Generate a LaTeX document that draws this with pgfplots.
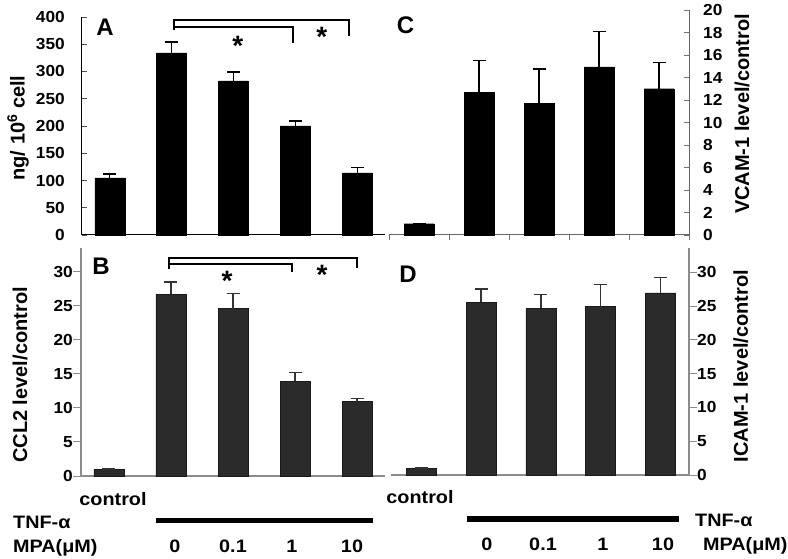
\documentclass[border=0pt]{standalone}
\usepackage{fontspec}
\setmainfont{Liberation Sans}
\newfontfamily\tfont{Liberation Sans}[FakeStretch=1.08]
\newfontfamily\wfont{Liberation Sans}[FakeStretch=1.1]
\usepackage{pgfplots}
\pgfplotsset{compat=1.18}
\definecolor{barB}{HTML}{2B2B2B}
\definecolor{axgray}{HTML}{8C8C8C}
\pgfplotsset{
  panel/.style={
    scale only axis, anchor=south west, clip=false, ymin=0,
    ybar, bar width=30pt,
    /pgf/number format/assume math mode=true,
    ticklabel style={font=\fontsize{16}{16}\tfont\bfseries, text=black},
    major tick length=5pt,
    every axis y label/.style={rotate=90, anchor=center, font=\fontsize{20}{20}\selectfont\bfseries},
  },
  blackbar/.style={fill=black, draw=black,
    error bars/.cd, y dir=plus, y explicit,
    error bar style={line width=1.3pt, black},
    error mark options={rotate=90, mark size=6.5pt, line width=1.3pt, black}},
  graybar/.style={fill=barB, draw=black!90, line width=0.8pt,
    error bars/.cd, y dir=plus, y explicit,
    error bar style={line width=1.5pt, black!80},
    error mark options={rotate=90, mark size=6.5pt, line width=1.5pt, black!80}},
}
\begin{document}
\begin{tikzpicture}
\path[use as bounding box] (0pt,0pt) rectangle (788pt,558pt);

% ---------- Panel A ----------
\begin{axis}[panel,
  at={(82pt,323pt)}, width=303pt, height=218pt,
  xmin=-0.45, xmax=4.45, ymax=400,
  axis x line*=bottom, axis y line*=left,
  xtick=\empty, ytick={0,50,...,400},
  tick align=inside,
  axis line style={black, line width=1pt},
  ytick style={black!70, line width=0.8pt},
  yticklabel style={anchor=east, inner sep=0pt, xshift=-17pt},
  ylabel={ng/ 10\textsuperscript{6} cell},
  ylabel style={at={(axis description cs:-0.211,0.491)}},
]
\addplot[blackbar] table[x=x, y=y, y error=e] {
x y e
0 105 7
1 334 20
2 283 16
3 200 9
4 114 10
};
\draw[line width=2pt] (axis cs:1.04,376) -- (axis cs:1.04,394.5) -- (axis cs:3.87,394.5) -- (axis cs:3.87,365.7);
\draw[line width=2pt] (axis cs:1.04,382.2) -- (axis cs:2.96,382.2) -- (axis cs:2.96,352.8);
\node[font=\fontsize{28}{28}\selectfont\bfseries, yshift=-6pt] at (axis cs:2.07,357.8) {*};
\node[font=\fontsize{28}{28}\selectfont\bfseries, yshift=-6pt] at (axis cs:3.43,374.3) {*};
\node[font=\fontsize{24}{24}\selectfont\bfseries] at (axis description cs:0.076,0.954) {A};
\end{axis}

% ---------- Panel B ----------
\begin{axis}[panel,
  at={(81pt,82pt)}, width=304pt, height=228pt,
  xmin=-0.45, xmax=4.45, ymax=33.5,
  axis x line*=bottom, axis y line*=left,
  xtick=\empty, ytick={0,5,...,30},
  tick align=outside,
  axis line style={axgray, line width=1.2pt},
  ytick style={axgray, line width=1pt},
  major tick length=8pt,
  yticklabel style={anchor=east, inner sep=0pt},
  ylabel={CCL2 level/control},
  ylabel style={at={(axis description cs:-0.2007,0.443)}},
]
\addplot[graybar] table[x=x, y=y, y error=e] {
x y e
0 1.0 0
1 26.7 1.8
2 24.6 2.2
3 13.9 1.3
4 10.9 0.5
};
\draw[line width=2pt] (axis cs:0.968,30.4) -- (axis cs:0.968,31.97) -- (axis cs:4.0,31.97) -- (axis cs:4.0,30.59);
\draw[line width=2pt] (axis cs:0.968,31.09) -- (axis cs:2.951,31.09) -- (axis cs:2.951,29.91);
\node[font=\fontsize{28}{28}\selectfont\bfseries, yshift=-6pt] at (axis cs:1.903,29.5) {*};
\node[font=\fontsize{28}{28}\selectfont\bfseries, yshift=-6pt] at (axis cs:3.435,30.5) {*};
\node[font=\fontsize{24}{24}\selectfont\bfseries] at (axis description cs:0.066,0.921) {B};
\end{axis}

% ---------- Panel C ----------
\begin{axis}[panel,
  at={(389pt,323pt)}, width=300pt, height=225pt,
  xmin=-0.5, xmax=4.5, ymax=20,
  axis x line*=bottom, axis y line*=right,
  xtick={-0.5,0.5,...,4.5}, xticklabels={},
  ytick={0,2,...,20},
  tick align=inside,
  axis line style={black!60, line width=1pt},
  ytick style={black!55, line width=0.8pt},
  xtick style={black!55, line width=0.8pt, yshift=-5pt},
  yticklabel style={anchor=west, inner sep=0pt, xshift=14pt},
  ylabel={VCAM-1 level/control},
  ylabel style={at={(axis description cs:1.177,0.538)}},
]
\addplot[blackbar] table[x=x, y=y, y error=e] {
x y e
0 1.0 0
1 12.65 2.85
2 11.7 3.05
3 14.95 3.15
4 13.0 2.35
};
\node[font=\fontsize{24}{24}\selectfont\bfseries] at (axis description cs:0.055,0.933) {C};
\end{axis}

% ---------- Panel D ----------
\begin{axis}[panel,
  at={(391pt,83pt)}, width=298pt, height=227pt,
  xmin=-0.51, xmax=4.48, ymax=33.6,
  axis x line*=bottom, axis y line*=right,
  xtick=\empty, ytick={0,5,...,30},
  tick align=outside,
  axis line style={axgray, line width=1.2pt},
  ytick style={axgray, line width=1pt},
  major tick length=8pt,
  yticklabel style={anchor=west, inner sep=0pt},
  ylabel={ICAM-1 level/control},
  ylabel style={at={(axis description cs:1.174,0.48)}},
]
\addplot[graybar] table[x=x, y=y, y error=e] {
x y e
0 1.0 0
1 25.6 1.9
2 24.65 2.05
3 24.9 3.3
4 26.95 2.3
};
\node[font=\fontsize{24}{24}\selectfont\bfseries] at (axis description cs:0.057,0.885) {D};
\end{axis}

% ---------- treatment labels ----------
\begin{scope}[every node/.style={font=\fontsize{18}{18}\wfont\bfseries, inner sep=0pt}]
\node[anchor=base] at (113pt,53pt) {control};
\node[anchor=base west] at (13pt,30pt) {TNF-α};
\node[anchor=base west] at (13pt,6pt) {MPA(μM)};
\node[anchor=base] at (175pt,6pt) {0};
\node[anchor=base] at (233pt,6pt) {0.1};
\node[anchor=base] at (292pt,6pt) {1};
\node[anchor=base] at (352pt,6pt) {10};
\draw[line width=5.5pt] (156pt,37.5pt) -- (373pt,37.5pt);
\node[anchor=base] at (420pt,54.7pt) {control};
\node[anchor=base west] at (695pt,32pt) {TNF-α};
\node[anchor=base west] at (703pt,8pt) {MPA(μM)};
\node[anchor=base] at (487pt,8pt) {0};
\node[anchor=base] at (543pt,8pt) {0.1};
\node[anchor=base] at (603pt,8pt) {1};
\node[anchor=base] at (663pt,8pt) {10};
\draw[line width=5.5pt] (467pt,39pt) -- (679pt,39pt);
\end{scope}
\end{tikzpicture}
\end{document}
